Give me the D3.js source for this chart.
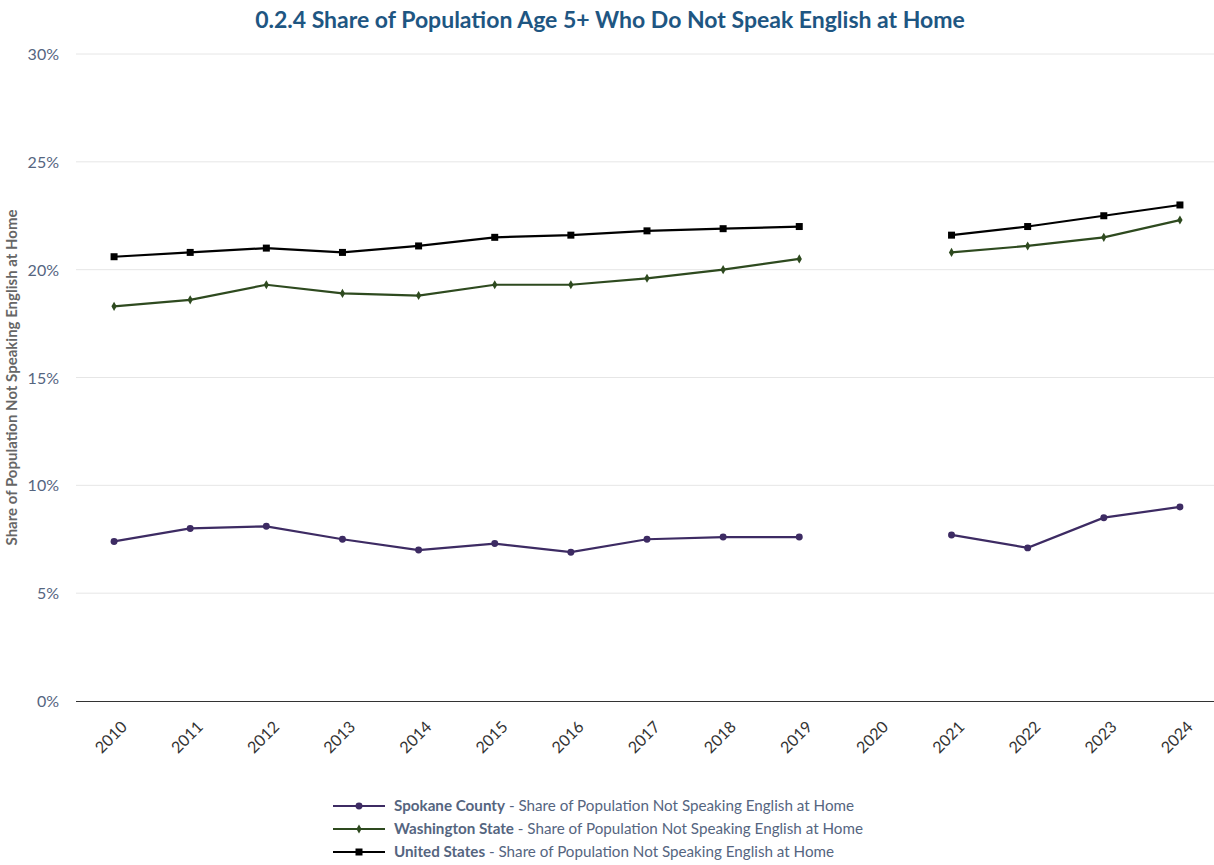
<!DOCTYPE html>
<html>
<head>
<meta charset="utf-8">
<script src="https://cdn.jsdelivr.net/npm/d3@7"></script>
<style>
  body { margin: 0; background: #fff; font-family: Lato, "Open Sans", sans-serif; }
</style>
</head>
<body>
<svg id="chart" width="1214" height="865"></svg>
<script>
// chart data (2020 has no value)
var years = ["2010","2011","2012","2013","2014","2015","2016","2017","2018","2019","2020","2021","2022","2023","2024"];
var spokane = [7.4, 8.0, 8.1, 7.5, 7.0, 7.3, 6.9, 7.5, 7.6, 7.6, null, 7.7, 7.1, 8.5, 9.0];
var washington = [18.3, 18.6, 19.3, 18.9, 18.8, 19.3, 19.3, 19.6, 20.0, 20.5, null, 20.8, 21.1, 21.5, 22.3];
var unitedStates = [20.6, 20.8, 21.0, 20.8, 21.1, 21.5, 21.6, 21.8, 21.9, 22.0, null, 21.6, 22.0, 22.5, 23.0];
var yTicks = [0, 5, 10, 15, 20, 25, 30];

var seriesNames = ["Spokane County", "Washington State", "United States"];
var seriesSuffix = " - Share of Population Not Speaking English at Home";

var series = [
  { name: seriesNames[0], values: spokane, color: "#3d2b63", symbol: d3.symbolCircle, size: 38 },
  { name: seriesNames[1], values: washington, color: "#2e4a1f", symbol: d3.symbolDiamond, size: 24 },
  { name: seriesNames[2], values: unitedStates, color: "#000000", symbol: d3.symbolSquare, size: 49 }
];

var svg = d3.select("#chart");
var margin = { left: 76, right: 1214, top: 54, bottom: 701 };

// band centres: 2010 at ~114, 2024 at ~1180
var x = d3.scaleBand().domain(years).range([76, 1218]);
var y = d3.scaleLinear().domain([0, 30]).range([margin.bottom, margin.top]);
var cx = function (yr) { return x(yr) + x.bandwidth() / 2; };

// title
svg.append("text")
  .attr("x", 610).attr("y", 28)
  .attr("text-anchor", "middle")
  .style("font-size", "23px").style("font-weight", "bold")
  .style("fill", "#1e5682")
  .text("0.2.4 Share of Population Age 5+ Who Do Not Speak English at Home");

// gridlines
svg.append("g").selectAll("line")
  .data(yTicks.filter(function (d) { return d > 0; }))
  .enter().append("line")
  .attr("x1", margin.left).attr("x2", margin.right)
  .attr("y1", function (d) { return y(d); })
  .attr("y2", function (d) { return y(d); })
  .style("stroke", "#e6e6e6").style("stroke-width", 1);

// y axis labels
svg.append("g").selectAll("text")
  .data(yTicks)
  .enter().append("text")
  .attr("x", 59)
  .attr("y", function (d) { return y(d) + 6; })
  .attr("text-anchor", "end")
  .style("font-size", "16px")
  .style("fill", "#55657f")
  .text(function (d) { return d + "%"; });

// y axis title
svg.append("text")
  .attr("transform", "translate(17," + y(15) + ") rotate(-90)")
  .attr("text-anchor", "middle")
  .style("font-size", "15px").style("font-weight", "bold")
  .style("fill", "#666")
  .text("Share of Population Not Speaking English at Home");

// x axis
var xAxis = svg.append("g")
  .attr("transform", "translate(0," + margin.bottom + ")")
  .call(d3.axisBottom(x).tickSize(0).tickPadding(0));
xAxis.select(".domain").attr("d", "M" + margin.left + ",0.5H" + margin.right)
  .style("stroke", "#333").style("stroke-width", 1);
xAxis.selectAll("text")
  .attr("transform", "translate(10,23) rotate(-45)")
  .attr("text-anchor", "end")
  .attr("dy", "0.35em")
  .style("font-family", "Lato, sans-serif")
  .style("font-size", "16px")
  .style("fill", "#333");

// lines and markers
var line = d3.line()
  .defined(function (d) { return d != null; })
  .x(function (d, i) { return cx(years[i]); })
  .y(function (d) { return y(d); });

series.forEach(function (s) {
  svg.append("path")
    .datum(s.values)
    .attr("d", line)
    .style("fill", "none")
    .style("stroke", s.color)
    .style("stroke-width", 2.2);

  svg.append("g").selectAll("path")
    .data(s.values.map(function (v, i) { return { v: v, i: i }; })
      .filter(function (d) { return d.v != null; }))
    .enter().append("path")
    .attr("transform", function (d) {
      return "translate(" + cx(years[d.i]) + "," + y(d.v) + ")";
    })
    .attr("d", d3.symbol().type(s.symbol).size(s.size))
    .style("fill", s.color);
});

// legend
var legend = svg.append("g").selectAll("g")
  .data(series)
  .enter().append("g")
  .attr("transform", function (d, i) { return "translate(333," + (806 + i * 23) + ")"; });

legend.append("line")
  .attr("x1", 0).attr("x2", 52)
  .style("stroke", function (d) { return d.color; })
  .style("stroke-width", 2.2);
legend.append("path")
  .attr("transform", "translate(26,0)")
  .attr("d", function (d) { return d3.symbol().type(d.symbol).size(d.size)(); })
  .style("fill", function (d) { return d.color; });

var legendText = legend.append("text")
  .attr("x", 61).attr("y", 5)
  .style("font-size", "15.2px")
  .style("fill", "#55657f");
legendText.append("tspan")
  .style("font-weight", "bold")
  .text(function (d) { return d.name; });
legendText.append("tspan")
  .text(seriesSuffix);
</script>
</body>
</html>
